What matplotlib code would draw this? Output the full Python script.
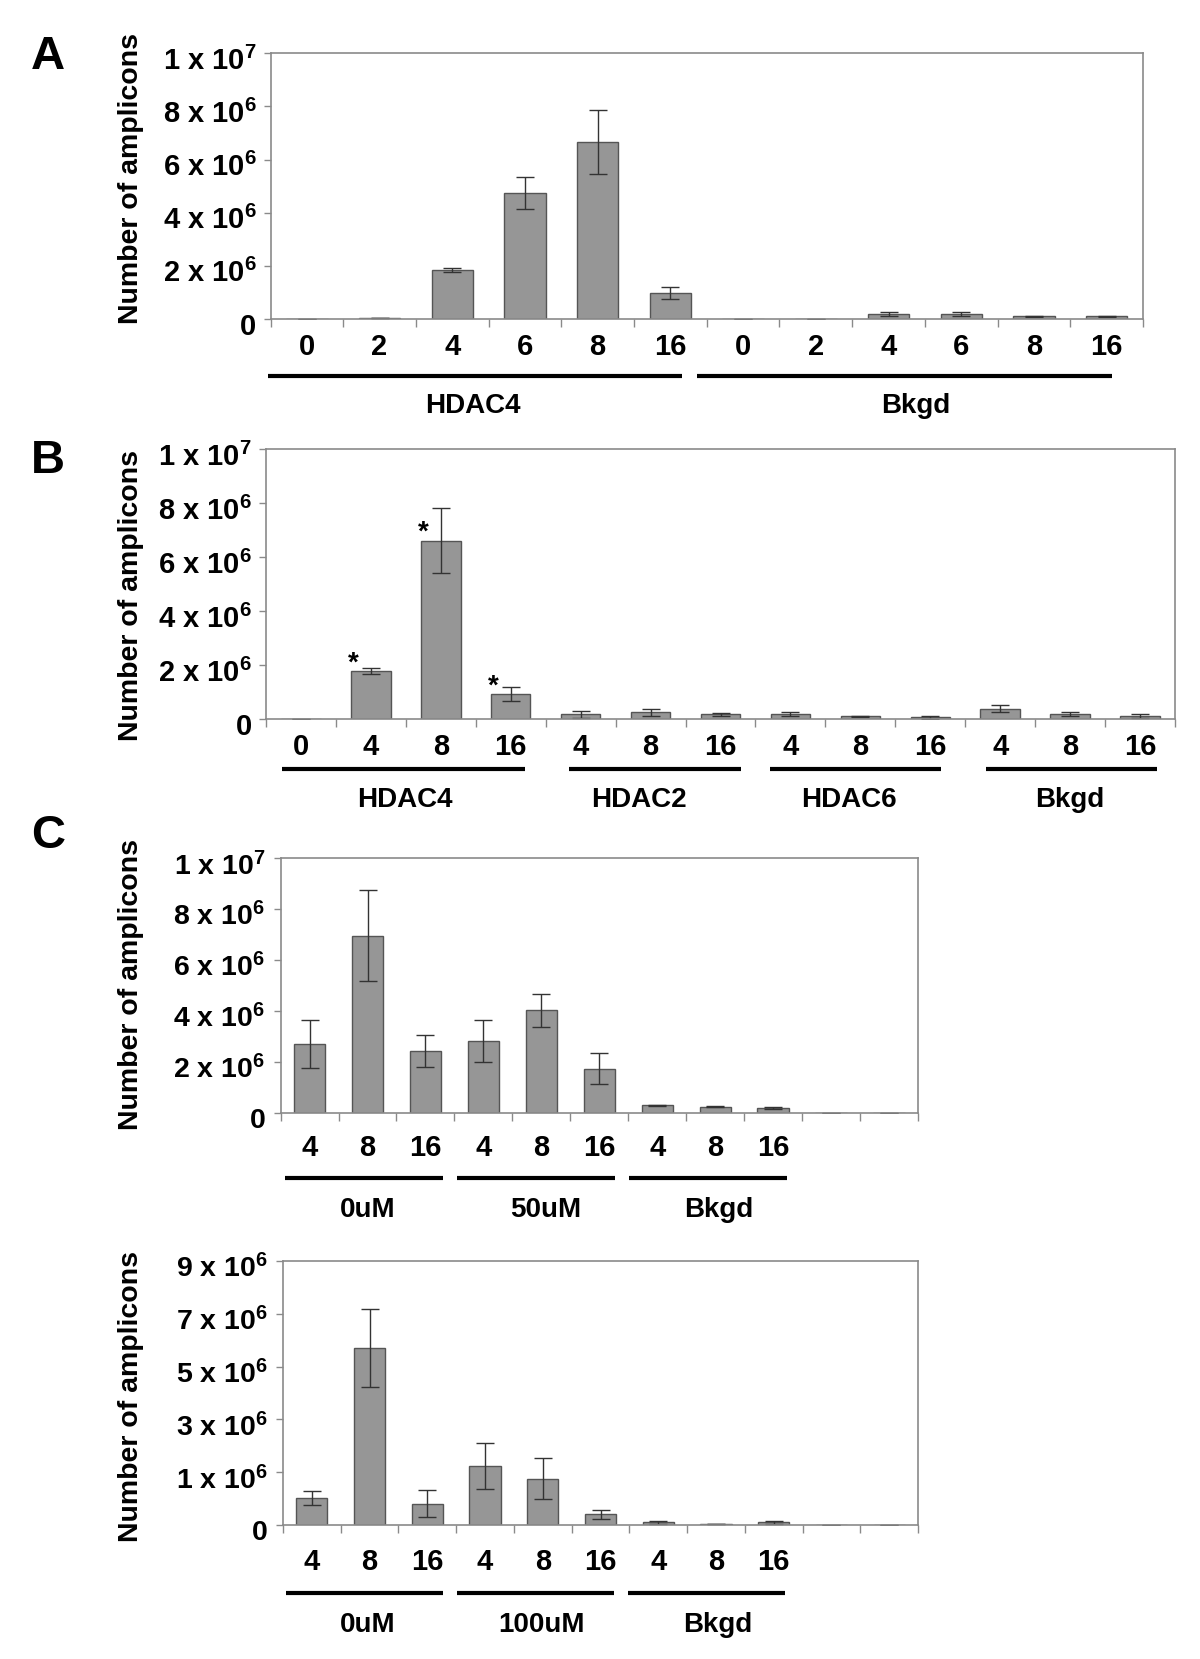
import matplotlib
matplotlib.use('Agg')
import matplotlib.pyplot as plt
import matplotlib.transforms as mtransforms
import numpy as np

plt.rcParams['font.family'] = ['Liberation Sans', 'DejaVu Sans']
plt.rcParams['font.weight'] = 'bold'
plt.rcParams['mathtext.fontset'] = 'custom'
plt.rcParams['mathtext.rm'] = 'Liberation Sans:bold'
plt.rcParams['mathtext.bf'] = 'Liberation Sans:bold'
plt.rcParams['mathtext.it'] = 'Liberation Sans:bold'
plt.rcParams['mathtext.sf'] = 'Liberation Sans:bold'
plt.rcParams['mathtext.default'] = 'bf'

# ---------------- DATA ----------------
# Panel A
a_categories = ['0', '2', '4', '6', '8', '16', '0', '2', '4', '6', '8', '16']
a_values = [0.0, 0.02e6, 1.84e6, 4.73e6, 6.65e6, 0.97e6,
            0.0, 0.01e6, 0.18e6, 0.18e6, 0.10e6, 0.10e6]
a_errors = [0.0, 0.0, 0.07e6, 0.60e6, 1.20e6, 0.23e6,
            0.0, 0.0, 0.07e6, 0.07e6, 0.01e6, 0.01e6]
a_groups = ['HDAC4', 'Bkgd']
a_yticks = [0, 2e6, 4e6, 6e6, 8e6, 1e7]
a_yticklabels = ['0', '2 x 10$^{6}$', '4 x 10$^{6}$', '6 x 10$^{6}$', '8 x 10$^{6}$', '1 x 10$^{7}$']

# Panel B
b_categories = ['0', '4', '8', '16', '4', '8', '16', '4', '8', '16', '4', '8', '16']
b_values = [0.0, 1.78e6, 6.62e6, 0.93e6,
            0.19e6, 0.26e6, 0.19e6,
            0.19e6, 0.12e6, 0.07e6,
            0.40e6, 0.19e6, 0.12e6]
b_errors = [0.0, 0.11e6, 1.19e6, 0.26e6,
            0.13e6, 0.14e6, 0.05e6,
            0.07e6, 0.02e6, 0.06e6,
            0.12e6, 0.07e6, 0.06e6]
b_groups = ['HDAC4', 'HDAC2', 'HDAC6', 'Bkgd']
b_significant = [1, 2, 3]
b_yticks = a_yticks
b_yticklabels = a_yticklabels

# Panel C (top)
c1_categories = ['4', '8', '16', '4', '8', '16', '4', '8', '16', '', '']
c1_values = [2.69e6, 6.96e6, 2.42e6, 2.82e6, 4.02e6, 1.73e6, 0.29e6, 0.24e6, 0.18e6, 0.0, 0.0]
c1_errors = [0.95e6, 1.80e6, 0.62e6, 0.84e6, 0.65e6, 0.60e6, 0.02e6, 0.03e6, 0.03e6, 0.0, 0.0]
c1_groups = ['0uM', '50uM', 'Bkgd']
c1_yticks = a_yticks
c1_yticklabels = a_yticklabels

# Panel C (bottom) - axis ticks equally spaced, labelled as in original
c2_categories = ['4', '8', '16', '4', '8', '16', '4', '8', '16', '', '']
c2_values = [0.93e6, 6.02e6, 0.72e6, 2.02e6, 1.57e6, 0.36e6, 0.09e6, 0.045e6, 0.09e6, 0.0, 0.0]
c2_errors = [0.24e6, 1.33e6, 0.46e6, 0.78e6, 0.70e6, 0.16e6, 0.06e6, 0.005e6, 0.06e6, 0.0, 0.0]
c2_groups = ['0uM', '100uM', 'Bkgd']
c2_yticks = [0, 1.8e6, 3.6e6, 5.4e6, 7.2e6, 9e6]
c2_yticklabels = ['0', '1 x 10$^{6}$', '3 x 10$^{6}$', '5 x 10$^{6}$', '7 x 10$^{6}$', '9 x 10$^{6}$']

# ---------------- LAYOUT ----------------
W, H = 1200, 1659
fig = plt.figure(figsize=(W / 100, H / 100), dpi=100)

BAR_FACE = '#969696'
BAR_EDGE = '#555555'
SPINE = '#8a8a8a'


def fy(py):
    return 1 - py / H


def make_axes(x0, y0, x1, y1):
    return fig.add_axes([x0 / W, 1 - y1 / H, (x1 - x0) / W, (y1 - y0) / H])


def draw_panel(ax, cats, vals, errs, yticks, yticklabels, ylim, width,
               xtick_y, line_y, group_y, spans, label_x, groups,
               ytick_fs=21, xtick_fs=21, group_fs=20, ypad=5):
    n = len(cats)
    x = np.arange(n)
    ax.bar(x, vals, width=width, color=BAR_FACE, edgecolor=BAR_EDGE, linewidth=1.0,
           yerr=errs, error_kw=dict(ecolor='#333333', elinewidth=1.0, capsize=6.5, capthick=1.0),
           zorder=2)
    ax.set_xlim(-0.5, n - 0.5)
    ax.set_ylim(*ylim)
    for s in ax.spines.values():
        s.set_color(SPINE)
        s.set_linewidth(1.2)
    ax.set_xticks(np.arange(n + 1) - 0.5)
    ax.set_xticklabels([])
    ax.tick_params(axis='x', which='major', direction='out', length=6, color=SPINE, width=1)
    ax.set_yticks(yticks)
    ax.set_yticklabels(yticklabels, fontsize=ytick_fs, fontweight='bold')
    ax.tick_params(axis='y', which='major', direction='out', length=5, color=SPINE, width=1, pad=ypad)
    off = mtransforms.ScaledTranslation(0, -5 / 100, fig.dpi_scale_trans)
    for lab in ax.get_yticklabels():
        lab.set_transform(lab.get_transform() + off)
    tr = mtransforms.blended_transform_factory(ax.transData, fig.transFigure)
    for i, c in enumerate(cats):
        if c:
            ax.text(i, fy(xtick_y), c, transform=tr, ha='center', va='center',
                    fontsize=xtick_fs, fontweight='bold')
    for (s, e) in spans:
        ax.plot([s, e], [fy(line_y), fy(line_y)], transform=tr, color='black',
                linewidth=3.0, solid_capstyle='butt', clip_on=False)
    for g, lx in zip(groups, label_x):
        ax.text(lx, fy(group_y), g, transform=tr, ha='center', va='center',
                fontsize=group_fs, fontweight='bold')


def ylabel(py):
    fig.text(131 / W, fy(py), 'Number of amplicons', rotation=90, ha='center', va='center',
             fontsize=20.5, fontweight='bold')


def panel_letter(letter, px, py):
    fig.text(px / W, fy(py), letter, ha='center', va='center', fontsize=34, fontweight='bold')


# Panel A
axA = make_axes(270.5, 53.3, 1143, 319)
draw_panel(axA, a_categories, a_values, a_errors, a_yticks, a_yticklabels, (0, 1e7), 0.57,
           xtick_y=347, line_y=376, group_y=406,
           spans=[(-0.53, 5.16), (5.37, 11.07)], label_x=[2.28, 8.38], groups=a_groups)
ylabel(179)
panel_letter('A', 48, 57)

# Panel B
axB = make_axes(266, 449.3, 1175, 719.3)
draw_panel(axB, b_categories, b_values, b_errors, b_yticks, b_yticklabels, (0, 1e7), 0.565,
           xtick_y=747, line_y=769, group_y=800,
           spans=[(-0.27, 3.21), (3.83, 6.29), (6.71, 9.16), (9.79, 12.24)],
           label_x=[1.48, 4.84, 7.84, 10.99], groups=b_groups)
for i in b_significant:
    axB.text(i - 0.25, b_values[i] + 0.28e6, '*', ha='center', va='center',
             fontsize=20, fontweight='bold')
ylabel(596)
panel_letter('B', 48, 461)

# Panel C top
axC1 = make_axes(280.6, 858.3, 918, 1112.7)
draw_panel(axC1, c1_categories, c1_values, c1_errors, c1_yticks, c1_yticklabels, (0, 1e7), 0.54,
           xtick_y=1148, line_y=1178, group_y=1210,
           spans=[(-0.42, 2.3), (2.55, 5.27), (5.51, 8.24)],
           label_x=[1.0, 4.07, 7.07], groups=c1_groups, ytick_fs=20.5, ypad=6)
ylabel(984)
panel_letter('C', 48, 836)

# Panel C bottom
axC2 = make_axes(283, 1261, 918, 1525)
draw_panel(axC2, c2_categories, c2_values, c2_errors, c2_yticks, c2_yticklabels, (0, 9e6), 0.54,
           xtick_y=1562, line_y=1593, group_y=1625,
           spans=[(-0.45, 2.27), (2.51, 5.23), (5.47, 8.2)],
           label_x=[0.97, 3.98, 7.03], groups=c2_groups, ytick_fs=20.5, ypad=6)
ylabel(1397)

fig.savefig('out.png', dpi=100)
